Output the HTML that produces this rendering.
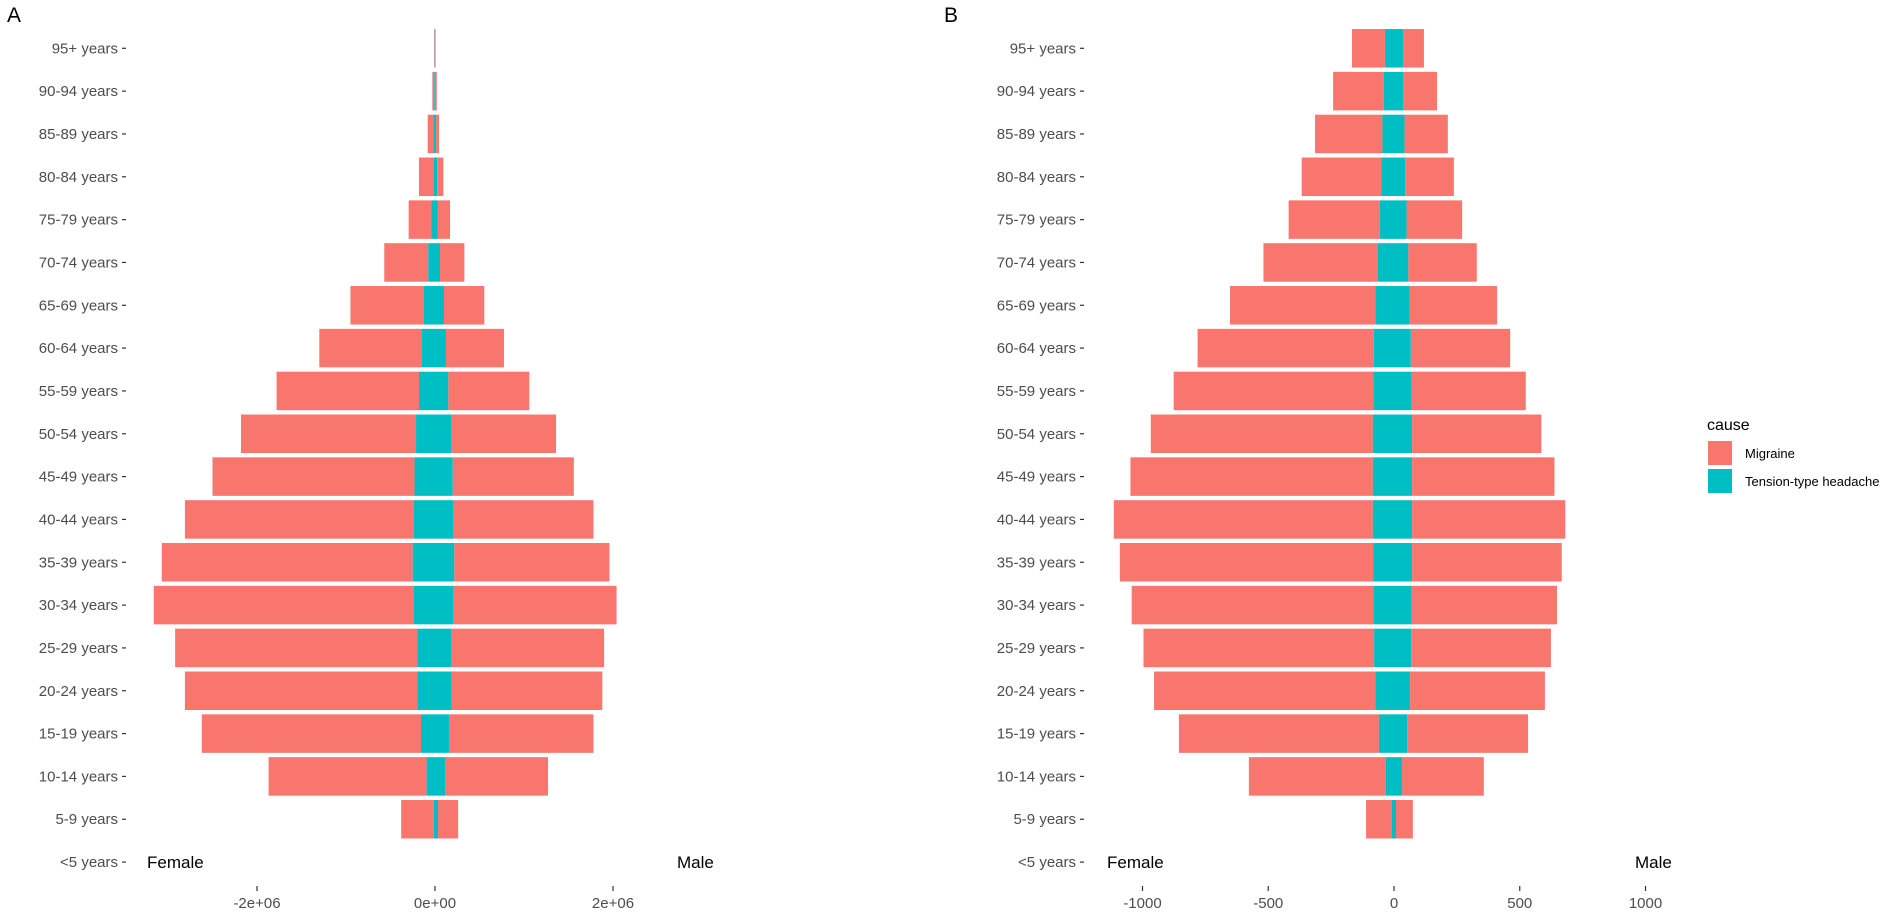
<!DOCTYPE html>
<html><head><meta charset="utf-8">
<style>
html,body{margin:0;padding:0;background:#fff;}
svg{display:block;font-family:"Liberation Sans",Arial,sans-serif;}
</style></head>
<body>
<svg id="chart" width="1902" height="913" viewBox="0 0 1902 913">
  <text x="7" y="22" font-size="21" fill="#000">A</text>
  <text x="944" y="22" font-size="21" fill="#000">B</text>
  <g id="panelA"></g>
  <g id="panelB"></g>
  <g>
    <text x="1707" y="430" font-size="16" fill="#000">cause</text>
    <rect x="1708" y="441" width="24" height="24" fill="#F8766D"></rect>
    <text x="1745" y="458" font-size="13" fill="#000">Migraine</text>
    <rect x="1708" y="469" width="24" height="24" fill="#00BFC4"></rect>
    <text x="1745" y="486" font-size="13" fill="#000">Tension-type headache</text>
  </g>
</svg>
<script>
const categories = ["95+ years","90-94 years","85-89 years","80-84 years","75-79 years","70-74 years","65-69 years","60-64 years","55-59 years","50-54 years","45-49 years","40-44 years","35-39 years","30-34 years","25-29 years","20-24 years","15-19 years","10-14 years","5-9 years","<5 years"];
// Panel A (millions)
const aFemaleMigraine = [0.007,0.022,0.062,0.16,0.257,0.495,0.826,1.154,1.60,1.967,2.27,2.57,2.82,2.92,2.72,2.61,2.463,1.776,0.367,0];
const aFemaleTension  = [0.003,0.008,0.02,0.02,0.039,0.075,0.124,0.146,0.18,0.213,0.23,0.24,0.25,0.24,0.2,0.2,0.157,0.094,0.013,0];
const aMaleMigraine   = [0.005,0.012,0.032,0.069,0.141,0.274,0.453,0.651,0.91,1.18,1.36,1.57,1.743,1.83,1.72,1.695,1.623,1.157,0.226,0];
const aMaleTension    = [0.003,0.008,0.013,0.025,0.028,0.056,0.101,0.124,0.15,0.18,0.2,0.21,0.217,0.21,0.18,0.185,0.157,0.113,0.034,0];
const aTicks = [-2,0,2];
const aTickLabels = ["-2e+06","0e+00","2e+06"];
// Panel B
const bFemaleMigraine = [131,202,268,316,363,454,578,701,794,883,964,1030,1007,961,917,880,795,545,103,0];
const bFemaleTension  = [36,40,46,51,56,65,74,80,82,84,84,84,83,82,79,74,60,32,8,0];
const bMaleMigraine   = [83,135,172,193,221,272,347,395,454,514,566,609,595,578,556,536,481,325,67,0];
const bMaleTension    = [36,36,42,45,50,57,63,67,70,72,72,72,72,70,68,64,52,32,8,0];
const bTicks = [-1000,-500,0,500,1000];
const bTickLabels = ["-1000","-500","0","500","1000"];

const NS="http://www.w3.org/2000/svg";
const ROW0=48.3, STEP=42.83, BH=38.5;
function yPos(i){return ROW0+i*STEP;}
function mk(tag,attrs,parent){const e=document.createElementNS(NS,tag);for(const k in attrs)e.setAttribute(k,attrs[k]);parent.appendChild(e);return e;}

function drawPanel(g, prefix, xs, fm, ft, mm, mt, ticks, tickLabels, labelRight, femaleX, maleX){
  categories.forEach((c,i)=>{
    const y=yPos(i);
    const t=mk('text',{x:labelRight,y:y+5,'font-size':15,fill:'#4d4d4d','text-anchor':'end'},g);
    t.textContent=c;
    
    
    const tk=mk('line',{x1:labelRight+4,x2:labelRight+8,y1:y,y2:y,stroke:'#333','stroke-width':1.2},g);
    
    
  });
  categories.forEach((c,i)=>{
    const y=yPos(i)-BH/2;
    const fl=xs(-(fm[i]+ft[i])), ftl=xs(-ft[i]), mtr=xs(mt[i]), mr=xs(mt[i]+mm[i]);
    const r1=mk('rect',{x:fl,y:y,width:Math.max(0,ftl-fl),height:BH,fill:'#F8766D'},g);
    
    
    const r2=mk('rect',{x:ftl,y:y,width:Math.max(0,mtr-ftl),height:BH,fill:'#00BFC4'},g);
    
    
    const r3=mk('rect',{x:mtr,y:y,width:Math.max(0,mr-mtr),height:BH,fill:'#F8766D'},g);
    
    
  });
  ticks.forEach((v,i)=>{
    const x=xs(v);
    const l=mk('line',{x1:x,x2:x,y1:886,y2:891,stroke:'#333','stroke-width':1.2},g);
    
    
    const t=mk('text',{x:x,y:908,'font-size':15,fill:'#4d4d4d','text-anchor':'middle'},g);
    t.textContent=tickLabels[i];
    
    
  });
  const f=mk('text',{x:femaleX,y:868,'font-size':17,fill:'#000'},g);
  f.textContent='Female';
  
  
  const m=mk('text',{x:maleX,y:868,'font-size':17,fill:'#000'},g);
  m.textContent='Male';
  
  
}
const xA=v=>435+v*89;
const xB=v=>1394+v*0.2515;
drawPanel(document.getElementById('panelA'),'a',xA,aFemaleMigraine,aFemaleTension,aMaleMigraine,aMaleTension,aTicks,aTickLabels,118,147,677);
drawPanel(document.getElementById('panelB'),'b',xB,bFemaleMigraine,bFemaleTension,bMaleMigraine,bMaleTension,bTicks,bTickLabels,1076,1107,1635);
</script>
</body></html>
